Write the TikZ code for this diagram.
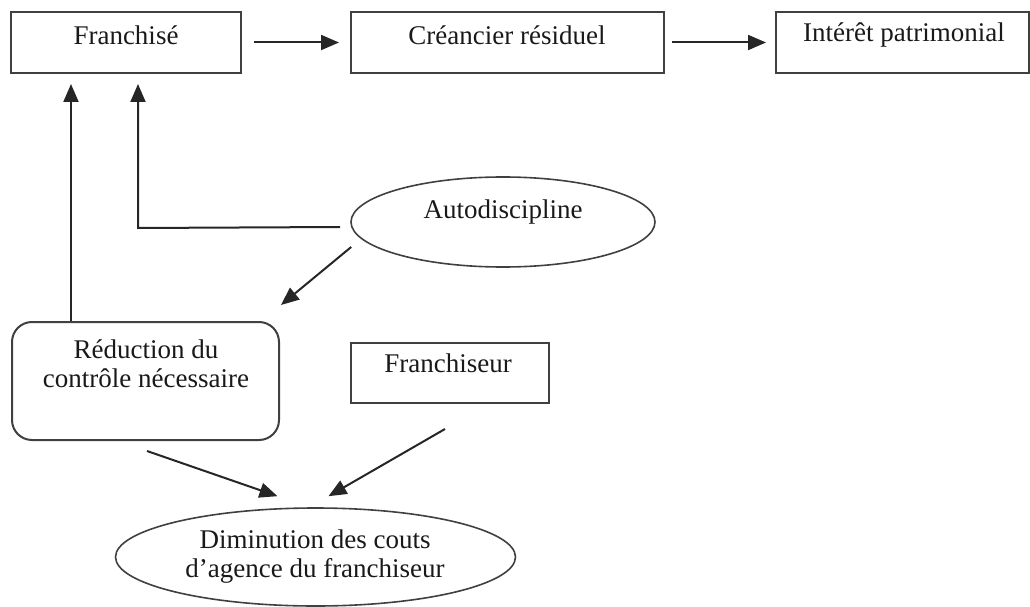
\documentclass[tikz,border=0pt]{standalone}
\usepackage{fontspec}
\setmainfont{Liberation Serif}
\usetikzlibrary{arrows.meta,calc,shapes.geometric}
\begin{document}
\begin{tikzpicture}[x=1pt,y=-1pt,
  box/.style={draw=black!75,line width=2pt,rectangle,inner sep=0pt},
  rbox/.style={box,rounded corners=20pt},
  oval/.style={draw=black!75,line width=1.6pt,ellipse,inner sep=0pt},
  txt/.style={font=\fontsize{27}{30}\selectfont,anchor=base,inner sep=0pt,text=black!90},
  arr/.style={draw=black!85,line width=2pt,-{Triangle[length=18pt,width=15pt]}}]
\useasboundingbox (0,0) rectangle (1030,607);
% boxes
\node[box,minimum width=230pt,minimum height=61pt] (fr) at (126,42.5) {};
\node[txt] (frT) at (126,45) {Franchisé};
\node[box,minimum width=313pt,minimum height=61pt] (cr) at (507.5,42.5) {};
\node[txt] (crT) at (507,45) {Créancier résiduel};
\node[box,minimum width=253pt,minimum height=61pt] (in) at (902.5,42.5) {};
\node[txt] (inT) at (904,42) {Intérêt patrimonial};
\node[oval,minimum width=304pt,minimum height=90pt] (au) at (503,222) {};
\node[txt] (auT) at (503,218) {Autodiscipline};
\node[rbox,minimum width=267pt,minimum height=118pt] (red) at (145.5,381) {};
\node[txt] (redA) at (146,358) {Réduction du};
\node[txt] (redB) at (146,387) {contrôle nécessaire};
\node[box,minimum width=198pt,minimum height=60pt] (fs) at (450,373) {};
\node[txt] (fsT) at (448,372) {Franchiseur};
\node[oval,minimum width=400pt,minimum height=98pt] (dim) at (315.5,557) {};
\node[txt] (dimA) at (315,548) {Diminution des couts};
\node[txt] (dimB) at (315,577) {d’agence du franchiseur};
% connectors
\draw[arr,shorten <=12pt,shorten >=11pt] (fr) -- (cr);
\draw[arr,shorten <=7pt,shorten >=9pt] (cr) -- (in);
\draw[arr] ($(red.north west)+(60,0)$) -- ($(fr.south west)+(61,10)$);
\draw[arr] ($(au.west)+(-10,5)$) -- ($(fr.south west)+(128,154)$) -- ($(fr.south west)+(128,10)$);
\draw[arr] ($(au.west)+(1,25)$) -- ($(red.north east)+(1,-16)$);
\draw[arr] ($(red.south west)+(136,10)$) -- ($(dim.north)+(-38,-11)$);
\draw[arr] ($(fs.south)+(-5,25)$) -- ($(dim.north)+(13,-11)$);
\end{tikzpicture}
\end{document}
